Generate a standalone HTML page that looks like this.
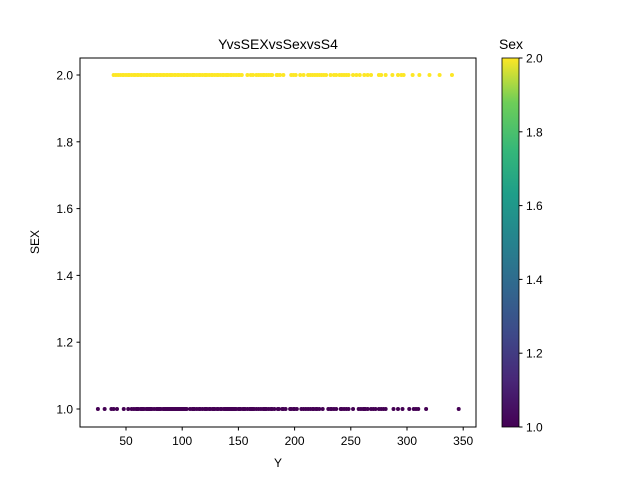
<!DOCTYPE html>
<html><head><meta charset="utf-8"><style>body{margin:0;background:#fff}svg{font-family:"Liberation Sans","DejaVu Sans",sans-serif}</style></head>
<body>
<svg id="chart" width="640" height="480" xmlns="http://www.w3.org/2000/svg">
<defs><linearGradient id="vir" x1="0" y1="1" x2="0" y2="0">
<stop offset="0" stop-color="#440154"/><stop offset="0.13" stop-color="#482878"/><stop offset="0.25" stop-color="#3e4989"/><stop offset="0.38" stop-color="#31688e"/><stop offset="0.5" stop-color="#26828e"/><stop offset="0.63" stop-color="#1f9e89"/><stop offset="0.75" stop-color="#35b779"/><stop offset="0.88" stop-color="#6ece58"/><stop offset="1" stop-color="#fde725"/></linearGradient></defs>
<text x="278" y="49" font-size="14" text-anchor="middle">YvsSEXvsSexvsS4</text>
<g id="pts"></g>
<rect x="80" y="58" width="396" height="369" fill="none" stroke="#000" stroke-width="1"/>
<g id="axes" font-size="12"></g>
<text x="278" y="467" font-size="12" text-anchor="middle">Y</text>
<text transform="translate(39,242) rotate(-90)" font-size="12" text-anchor="middle">SEX</text>
<rect x="502" y="58" width="17" height="369" fill="url(#vir)" stroke="#000" stroke-width="0.8"/>
<text x="511" y="49" font-size="14" text-anchor="middle">Sex</text>
<g id="cb" font-size="12"></g>
</svg>
<script>
const sex1Y=[25,31,37,39,42,48,52,55,57,59,60,61,63,64,65,66,68,69,70,71,72,73,75,77,78,79,80,81,83,84,85,86,87,88,89,90,91,92,93,94,95,96,97,98,99,100,101,102,103,104,107,109,110,111,113,115,116,118,120,121,122,124,125,127,128,129,131,132,134,135,137,138,139,140,141,142,143,144,145,146,147,148,150,151,152,154,155,156,158,160,161,162,163,164,166,168,170,172,173,174,175,177,179,180,182,185,186,189,190,192,196,197,199,200,202,206,208,210,212,214,216,217,219,220,222,225,230,232,233,235,237,241,242,244,246,248,252,257,259,261,262,263,265,268,270,272,275,277,279,281,288,292,296,302,306,308,310,317,346];
const sex2Y=[39,41,43,45,47,48,50,52,53,55,57,58,60,61,63,64,66,68,69,71,72,74,75,77,78,80,81,83,84,86,87,89,90,91,93,94,96,97,99,101,102,104,105,107,109,110,111,113,115,116,118,120,121,122,124,126,127,129,131,132,134,136,137,139,140,141,143,144,146,148,150,151,153,158,161,163,166,168,170,172,173,175,177,179,180,184,185,187,190,197,199,201,205,208,212,214,216,218,220,222,224,226,228,232,235,237,240,242,244,246,248,252,255,258,262,265,268,275,277,281,287,292,295,297,305,311,320,329,340];
const xTicks=[50,100,150,200,250,300,350];
const yTicks=[1.0,1.2,1.4,1.6,1.8,2.0];
const cbTicks=[1.0,1.2,1.4,1.6,1.8,2.0];
const NS="http://www.w3.org/2000/svg";
const xs=v=>69.8+v*1.124;
const ys=v=>409-(v-1)*334;
const cs=v=>427-(v-1)*369;
function mk(t,a){const e=document.createElementNS(NS,t);for(const k in a)e.setAttribute(k,a[k]);return e;}
const pts=document.getElementById('pts');
sex1Y.forEach(v=>{const c=mk('circle',{cx:xs(v),cy:ys(1),r:2,fill:'#440154'});


pts.appendChild(c);});
sex2Y.forEach(v=>{const c=mk('circle',{cx:xs(v),cy:ys(2),r:2,fill:'#fde725'});


pts.appendChild(c);});
const ax=document.getElementById('axes');
xTicks.forEach(v=>{const g=mk('g',{});


g.appendChild(mk('line',{x1:xs(v),x2:xs(v),y1:427,y2:430.5,stroke:'#000'}));
const t=mk('text',{x:xs(v),y:445,'text-anchor':'middle'});t.textContent=v;g.appendChild(t);ax.appendChild(g);});
yTicks.forEach(v=>{const g=mk('g',{});


g.appendChild(mk('line',{x1:76.5,x2:80,y1:ys(v),y2:ys(v),stroke:'#000'}));
const t=mk('text',{x:73,y:ys(v)+4.5,'text-anchor':'end'});t.textContent=v.toFixed(1);g.appendChild(t);ax.appendChild(g);});
const cb=document.getElementById('cb');
cbTicks.forEach(v=>{const g=mk('g',{});


g.appendChild(mk('line',{x1:519,x2:522.5,y1:cs(v),y2:cs(v),stroke:'#000'}));
const t=mk('text',{x:526,y:cs(v)+4.5});t.textContent=v.toFixed(1);g.appendChild(t);cb.appendChild(g);});
</script>
</body></html>
